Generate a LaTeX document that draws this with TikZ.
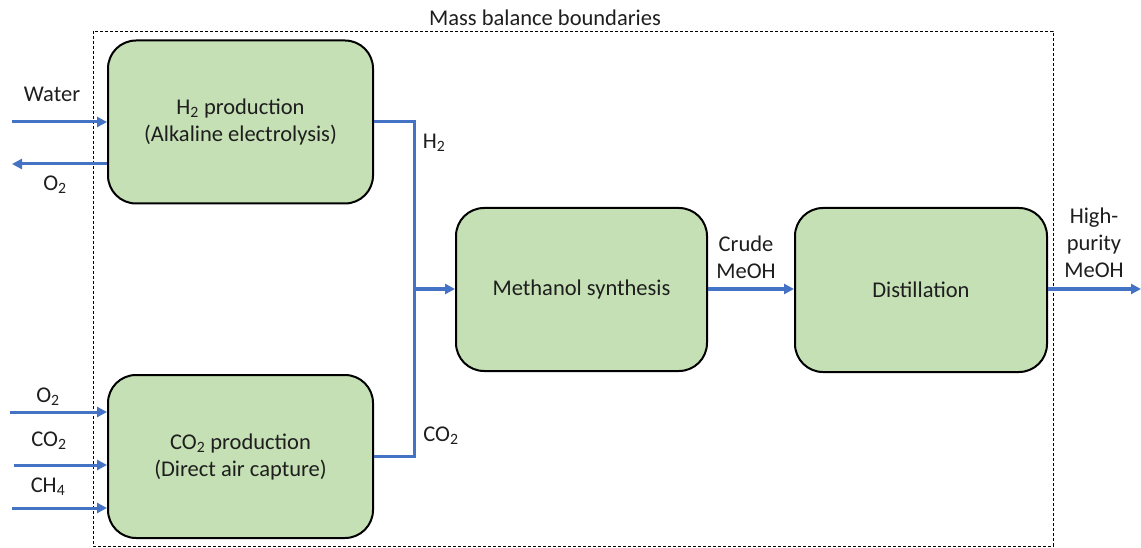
\documentclass[tikz,border=0pt]{standalone}
\usepackage{fontspec}
\setmainfont{Carlito}
\usetikzlibrary{arrows.meta}
\definecolor{boxgreen}{HTML}{C5E0B4}
\definecolor{flowblue}{HTML}{4472C4}
\definecolor{txtgray}{HTML}{1E1E1E}
\begin{document}
\begin{tikzpicture}[x=1pt,y=-1pt,
  unit/.style={draw=black,line width=2pt,fill=boxgreen,rounded corners=28pt,inner sep=0pt},
  flow/.style={draw=flowblue,line width=3pt},
  flowarr/.style={flow,-{Triangle[length=10pt,width=10pt]}},
  lbl/.style={font=\fontsize{22.5}{27}\selectfont,text=txtgray,align=center,inner sep=0pt},
]
\useasboundingbox (0,0) rectangle (1141,548);
\draw[dashed,line width=0.8pt,dash pattern=on 3pt off 2pt] (93,31) rectangle (1053,546);
\node[lbl] (title) at (545,18) {Mass balance boundaries};
% boxes
\node[unit,minimum width=265pt,minimum height=163pt] (h2) at (240.5,122) {};
\node[lbl] at (h2.center) {H\textsubscript{2} production\\(Alkaline electrolysis)};
\node[unit,minimum width=265pt,minimum height=163pt] (co2) at (240.5,456.5) {};
\node[lbl] at (co2.center) {CO\textsubscript{2} production\\(Direct air capture)};
\node[unit,minimum width=251pt,minimum height=163pt] (ms) at (581.5,289.5) {};
\node[lbl] at (ms.center) {Methanol synthesis};
\node[unit,minimum width=252pt,minimum height=164pt] (dist) at (921,290) {};
\node[lbl] at (dist.center) {Distillation};
% coordinates
\coordinate (w0) at (12,122);
\coordinate (o0) at (12,164);
\coordinate (j1) at (414,122);
\coordinate (j2) at (414,456);
\coordinate (jm) at (414,289);
\coordinate (out) at (1141,289);
\coordinate (i1) at (10,412);
\coordinate (i2) at (14,465);
\coordinate (i3) at (12,508);
% flows
\draw[flowarr] (w0) -- (h2.west |- w0);
\draw[flowarr] (h2.west |- o0) -- (o0);
\draw[flow] (h2.east |- j1) -- (j1) -- (j2) -- (co2.east |- j2);
\draw[flowarr] (jm) -- (ms.west |- jm);
\draw[flowarr] (ms.east |- jm) -- (dist.west |- jm);
\draw[flowarr] (dist.east |- jm) -- (out);
\draw[flowarr] (i1) -- (co2.west |- i1);
\draw[flowarr] (i2) -- (co2.west |- i2);
\draw[flowarr] (i3) -- (co2.west |- i3);
% labels
\node[lbl] at (52,94) {Water};
\node[lbl] at (55,185) {O\textsubscript{2}};
\node[lbl] at (434,143) {H\textsubscript{2}};
\node[lbl] at (441,436) {CO\textsubscript{2}};
\node[lbl] at (746,257) {Crude\\MeOH};
\node[lbl] at (1094,243) {High-\\purity\\MeOH};
\node[lbl] at (48,397) {O\textsubscript{2}};
\node[lbl] at (49,441) {CO\textsubscript{2}};
\node[lbl] at (48,487) {CH\textsubscript{4}};
\end{tikzpicture}
\end{document}
